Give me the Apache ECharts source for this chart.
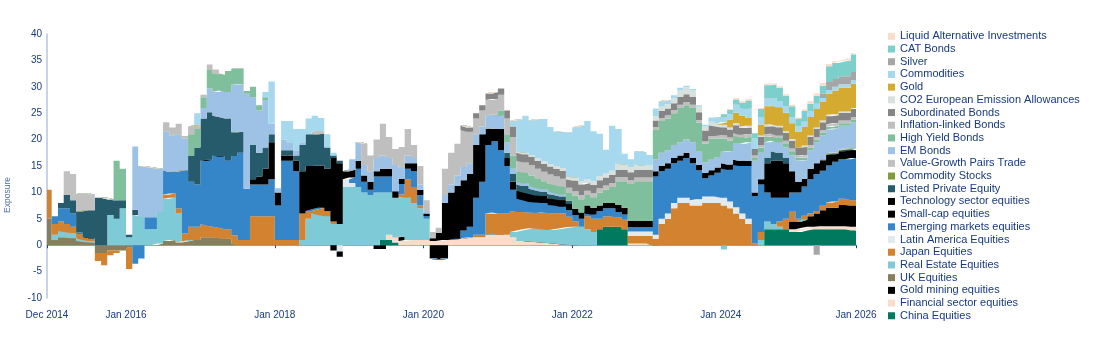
<!DOCTYPE html>
<html><head><meta charset="utf-8">
<script src="https://cdn.jsdelivr.net/npm/echarts@6/dist/echarts.min.js"></script>
<style>html,body{margin:0;padding:0;background:#fff}#c{width:1100px;height:360px}</style>
</head><body><div id="c"></div><script>
const dates = ['2014-12-01',
'2015-01-01','2015-02-01','2015-03-01','2015-04-01','2015-05-01','2015-06-01','2015-07-01','2015-08-01','2015-09-01','2015-10-01','2015-11-01','2015-12-01',
'2016-01-01','2016-02-01','2016-03-01','2016-04-01','2016-05-01','2016-06-01','2016-07-01','2016-08-01','2016-09-01','2016-10-01','2016-11-01','2016-12-01',
'2017-01-01','2017-02-01','2017-03-01','2017-04-01','2017-05-01','2017-06-01','2017-07-01','2017-08-01','2017-09-01','2017-10-01','2017-11-01','2017-12-01',
'2018-01-01','2018-02-01','2018-03-01','2018-04-01','2018-05-01','2018-06-01','2018-07-01','2018-08-01','2018-09-01','2018-10-01','2018-11-01','2018-12-01',
'2019-01-01','2019-02-01','2019-03-01','2019-04-01','2019-05-01','2019-06-01','2019-07-01','2019-08-01','2019-09-01','2019-10-01','2019-11-01','2019-12-01',
'2020-01-01','2020-02-01','2020-03-01','2020-04-01','2020-05-01','2020-06-01','2020-07-01','2020-08-01','2020-09-01','2020-10-01','2020-11-01','2020-12-01',
'2021-01-01','2021-02-01','2021-03-01','2021-04-01','2021-05-01','2021-06-01','2021-07-01','2021-08-01','2021-09-01','2021-10-01','2021-11-01','2021-12-01',
'2022-01-01','2022-02-01','2022-03-01','2022-04-01','2022-05-01','2022-06-01','2022-07-01','2022-08-01','2022-09-01','2022-10-01','2022-11-01','2022-12-01',
'2023-01-01','2023-02-01','2023-03-01','2023-04-01','2023-05-01','2023-06-01','2023-07-01','2023-08-01','2023-09-01','2023-10-01','2023-11-01','2023-12-01',
'2024-01-01','2024-02-01','2024-03-01','2024-04-01','2024-05-01','2024-06-01','2024-07-01','2024-08-01','2024-09-01','2024-10-01','2024-11-01','2024-12-01',
'2025-01-01','2025-02-01','2025-03-01','2025-04-01','2025-05-01','2025-06-01','2025-07-01','2025-08-01','2025-09-01','2025-10-01','2025-10-26'];

const axisStart = '2014-12-09', axisEnd = '2025-10-26';
const tickDates = ['2014-12-09','2016-01-01','2018-01-01','2020-01-01','2022-01-01','2024-01-01','2025-10-26'];
const tickLabels = ['Dec 2014','Jan 2016','Jan 2018','Jan 2020','Jan 2022','Jan 2024','Jan 2026'];
const yTicks = [-10, 40, 5];

const chinaEquities = [0,
0,0,0,0,0,0,0,0,0,0,0,0,
0,0,0,0,0,0,0,0,0,0,0,0,
0,0,0,0,0,0,0,0,0,0,0,0,
0,0,0,0,0,0,0,0,0,0,0,0,
0,0,0,0,0,1,1,0.5,0,0,0,0,
0,0,0,0,0,0,0,0,0,0,0,0,
0,0,0,0,0,0,0,0,0,0,0,0,
0,0,0,0,3,3.5,3.5,3.5,3,0,0,0,
0,0,0,0,0,0,0,0,0,0,0,0,
0,0,0,0,0,0,0,3,3,3,3,2.5,
2.5,2.8,3,3,3,3,3,3,3,2.8,2.8];
const financialEquities = [0,
0,0,0,0,0,0,0,0,0,0,0,0,
0,0,0,0,0,0,0,0,0,0,0,0,
0,0,0,0,0,0,0,0,0,0,0,0,
0,0,0,0,0,0,0,0,0,0,0,0,
0,0,0,0,0,0,1,1,0.8,1,1,1,
1,0.8,0.8,1,1,1.2,1.3,1.5,1.5,1.5,2,2.2,
2,2,1.5,0.8,0.8,0.7,0.6,0.5,0.4,0.3,0.2,0.1,
0,0,0,0,0,0,0,0,0,0.3,0.3,0.3,
0.3,0,0,0,0,0,0,0,0,0,0,0,
0,0,0,0,0,0,0,0,0,0,0,0.5,
0.5,0.5,0.5,0.5,0.6,0.6,0.6,0.6,0.6,0.7,0.7];
const goldMining = [0,
0,0,0,0,0,0,0,0,0,0,0,0,
0,0,0,0,0,0,0,0,0,0,0,0,
0,0,0,0,0,0,0,0,0,0,0,0,
0,0,0,0,0,0,0,0,0,0,0,0,
0,0,0,0,-0.7,-0.7,0,0,0.8,0,0,0,
0,-2.5,-2.8,-2.5,0,0,0,0,0,0,0,0,
0,0,0,0,0,0,0,0,0,0,0,0,
0,0,0,0,0,0,0,0,0,0,0,0,
0,0,0,0,0,0,0,0,0,0,0,0,
0,0,0,0,0,0,0,0,0,0,0,1.5,
1.5,1.5,2,2.5,3,3.5,3.5,4,4,4,4];
const ukEquities = [5,
1,1.5,1.5,1.3,0.8,0.6,0.5,-1.5,-1.5,-1,-1,-1,
-0.5,0,0,0,0,0.3,0.8,1,0.5,0.7,1,1,
1.5,1.5,1.5,1.3,1.2,0.3,0,0,0,0,0,0,
0,0,0,0,0,0,0,0,0,0,0,0,
0,0,0,0,0,0,0,0,0,0,0,0,
0,0,0,0,0,0,0,0,0,0,0,0,
0,0,0,0,0,0,0,0,0,0,0,0,
0,0,0,0,0,0,0,0,0,0,0,0,
0,0,0,0,0,0,0,0,0,0,0,0,
0,0,0,0,0,0,0,0,0,0,0,0,
0,0,0,0,0,0,0,0,0,0,0];
const realEstate = [0,
1,1.2,1,1,0.5,0.4,0.3,0,0,5.7,5,7,
1.5,5.7,5.5,3,3,6,8,8,5.5,0,0,0,
0,0,0,0,0,0,0,0,0,0,0,0,
0,0,0,0,1,5,6,5.7,5.5,4,4,11,
11,11,10,9.5,10,9,8,7.5,7.5,8,7,6,
4,0,0,0,0,0,0,0,0,0,0,0,
0,0,1,2,2.2,2.5,2.5,2.5,2.5,2.7,3,3.3,
3.5,3.5,3,2.5,0,0,0,0,0,0,0,0,
0,0,0,0,0,0,0,0,0,0,0,0,
-0.8,0,0,0,0,0,1,1.5,1,0.5,0,0,
0,0,0,0,0,0,0,0,0,0,0];
const japanEquities = [5.5,
2,1.8,1.5,1.2,0.8,0.6,0.5,-1.5,-2.3,-0.9,-0.5,0,
-4,0,0,0,0,0,0.8,0.8,1,1.5,2.5,2.5,
2.5,2.2,2,2,1.8,1.6,1,1,5.5,5.5,5.5,5.5,
1,1,1,1,5,1.5,0.8,1.4,1,0.5,0,0,
0,0,0,0,0,0,0,0,0.5,3.5,3,0.5,
0,0,0,0,0,0,0,0,0.5,0.5,4,4,
4,4,4,3.5,3.3,3,3,3.2,3.2,3,2.8,2,
1,0,2.5,2.5,2,2,2,1.8,1.8,1.5,1.5,1.5,
1.5,1.2,4,5,7,8,8,7.5,7.5,8,8,8,
7.5,7,6,5,4,0.3,1.5,0,0,1,2,2,
0.5,0.8,0.5,0.5,1,1,1.2,1.2,1.2,1,1];
const latamEquities = [0,
0,0,0,0,0,0,0,0,0,0,0,0,
0,0,0,0,0,0,0,0,0,0,0,0,
0,0,0,0,0,0,0,0,0,0,0,0,
0,0,0,0,0,0,0,0,0,0,-1.2,1.5,
0.8,0,0,0,0,0,0,0,0,0,0,0,
0,0,0,0,0,0,0,0,0,0,0,0,
0,0,0,0,0,0,0,0,0,0,0,0,
0,0,0,0,0,0,0,0,0,0.8,0.8,0.8,
0.8,0.8,1,1,1,1,1,1,1.2,1.2,1.2,1.2,
1.5,1.3,1.2,1,1,0,0,0,0,0,0,0,
0,0,0,0,0,0,0,0,0,0,0];
const emEquities = [0,
1.5,2.5,3,2.5,0.3,0,0,0,0,0,0,0,
0,-3.5,-2.5,2.3,2.3,0,4.5,4,7,12,8.5,8,
12,12.5,13.5,13.5,13,15,16.5,9.7,6,6,6,7,
6.5,15,15,13,0,0,0,0,0,0,0,0,
1,3.5,2,1,3,3,3,0,2,2,3,2,
0.5,0,0,0,0,0,1.5,2,7,10,13,13.5,
12,9,4,2.5,2.2,2,2,1.8,1.5,1.5,1.3,1.2,
1.2,1.5,0.5,0.8,1.5,1.5,1.5,1,1,0.8,0.8,0.8,
0.8,11,9,8.5,7.5,7,7.5,7,5.5,3.5,4,4.5,
5.5,6,8,9,10,9,9,5.5,5,4.5,4,3.5,
5,5.5,6.5,7,6.5,7,7.5,7.5,7.5,8,8];
const smallCap = [0,
0,0,0,0,0,0,0,0,0,0,0,0,
0,0,0,0,0,0,0,0,0,0,0,0,
0,0,0,0,0,0,0,0,1,1.5,3,7,
2.5,1,1,2,8,8.5,8.2,8,8,12,11.5,1.5,
1.5,1.5,1.2,1.5,1,1.5,1.5,1.2,1,1,1.5,1,
0.5,0.5,1.5,7,9,10,9.5,10,10,9,3,2.5,
4,1.5,1.5,1.5,1.5,1.5,1.3,1.3,1.3,1.2,1.2,1.2,
1.2,1.2,1.5,1.3,1,1,1,1.3,1.3,1.2,1.2,1.2,
1.2,1,1,1,1,1,1,1,1,1,1,1,
1,1,1,1,1,0.7,1,5.5,7,7,6.5,4,
2,1.5,2,2,2,2,1.5,1.5,1.8,1.5,1.5];
const techEquities = [0,
0,0,0,0,0,0,0,0,0,0,0,0,
0,0,0,0,0,0,0,0,0,0,0,0,
0,0,0,0,0,0,0,0,0,0,0,0,
0,0,0,0,0,0,0,0,0,-1,-1,0,
0,0,0,0,0,0,0,0,0,0,0,0,
0,0,0,0,0,0,0,0,0,0,0,0,
0,0,0,0,0,0,0,0,0,0,0,0,
0,0,0,0,0,0,0,0,0,0,0,0,
0,0,0,0,0,0,0,0,0,0,0,0,
0,0,0,0,0,0,0,0,0,0,0,0,
0,0,0,0,0,0,0,0,0,0,0];
const listedPE = [0,
0,1,2.5,2.5,4,5,5.3,9,9,3,3.5,1.5,
0.5,1,0,0,0,0,0,0,0,0,5,7,
8,9,7.5,7.5,8,4.5,4,0,6.5,4.5,4,1.5,
0,1,1,1,5,6,6,6,4,0.5,0.5,0,
0,0,0,0,0,0,0,0,0,0,0,0,
0,0,0,0,0,0,0,0,0,0,0,0,
0,1,1.5,1.2,1.2,1,1,0.8,0.8,0.8,0.7,0.6,
0,0,0,0,0,0,0,0,0,0,0,0,
0,0,0,0,0,0,0,0,0,0,0,0,
0,0,0,0,0,0,0,1,1.8,1.5,1,0,
0,0,0,0,0,0,0,0,0,0,0];
const commodityStocks = [0,
0,0,0,0,0,0,0,0,0,0,0,0,
0,0,0,0,0,0,0,0,0,0,0,0,
0,0,0,0,0,0,0,0,0,0,0,0,
0,0,0,0,0,0,0,0,0,0,0,0,
0,0,0,0,0,0,0,0,0,0,0,0,
0,0,0,0,0,0,0,0,0,0,0,0,
0,0,0,0,0,0,0,0,0,0,0,0,
0,0,0,0,0,0,0,0,0,0,0,0,
0,0,0,0,0,0,0,0,0,0,0,0,
0,0,0,0,0,0,0,0,0,0,0,0,
0,0,0,0,0.2,0.3,0.3,0.3,0.3,0.3,0.3];
const valueGrowth = [0,
0,0,4.5,5,3.3,3.2,3,0,0,0,0,0,
0,0,0,0,0,0,0,0,0,0,0,0,
0,0,0,0,0,0,0,0,0,0,0,0,
0,0,0,0,0,0,0,0,0,0,0,0,
0,0,0,0,0,0,0,0,0,0,0,0,
0,0,0,0,0,0,0,0,0,0,0,0,
0,0,0,0,0,0,0,0,0,0,0,0,
0,0,0,0,0,0,0,0,0,0,0,0,
0,0,0,0,0,0,0,0,0,0,0,0,
0,0,0,0,0,0,0,0,0,0,0,0,
0,0,0,0,0,0,0,0,0,0,0];
const emBonds = [0,
0,0,0,0,0,0,0,0,0,0,0,0,
0,12,9.5,9.5,9.3,8.2,7.5,7,7,6,0,0,
2,4.5,4.5,5,5,9,9,18,9,8,9,2,
0.8,2,1.5,1,0.5,0,0,0,0,0,0,0,
2,3.5,2,2,2.5,2.5,2,5,2,1.5,1,1,
0.5,0,0,1.5,1.5,2,2.5,2,2,1.5,2.6,2.5,
2.5,2,1,0.5,0.5,0.5,0.5,0.5,0.5,0.4,0.4,0,
0,0,0,0,0,0,0,0,0,0,0,0,
0,2.3,2.5,2.5,2.5,2.5,2.5,3,2.5,2,2,2,
2.2,2.5,3,3.2,3.5,6,5,3,2,2,2,3,
4,3.5,3.5,4,4.5,4.5,4.5,4.5,4.2,5,5];
const highYield = [0,
0,0,0,0,0,0,0,0,0,0,7.5,6,
0,0,0,0,0,0,0,0,0,0,4,3.5,
2,3.5,3.5,3,4,3,3,0.5,2,1,0.5,0,
0,0,0,0,0,0,0,0,0,0,0,0,
0,0,0,0,0,0,0,0,0,0,0,0,
0,0,0,0,0,0,0,0,0,0,0,0,
1,1.5,2.5,2,2,2,1.8,1.5,1.5,1.5,1.5,1.5,
2.5,2.5,2,2,2.5,2.5,3,4.5,5,7,7.5,7.5,
7.5,5.5,6,6,6,6.5,6.5,6.5,5.5,3.5,4,3.5,
2.5,2,1.5,1.2,1,0.5,1,1,0.8,0.8,0.8,0.8,
0.5,0.5,0.5,0.5,0.5,0.5,0.5,0.5,0.5,0.5,0.5];
const inflationLinked = [0,
0,0,0,0,0,0,0,0,0,0,0,0,
0,0,0,0,0,0,1.7,1.5,2,0.5,1.5,0.7,
0.5,1,0.8,0,0,0,0,0,0,0,0,0,
0,0,0,0,0,0,0.5,0.5,0,0,0,0,
0,0,4,3,3.5,6,4,3,4,5,2.5,3.5,
2,1.2,1,5,6,6,7,6,3,3,2.9,3,
3,3,3.5,2,2,2,1.8,1.8,1.7,1.6,1.5,1,
0.8,0.8,0.8,0.8,0.8,0.8,0.8,0.8,0.8,0.7,0.7,0.7,
0.7,0.6,0.6,0.6,0.6,0.6,0.6,0.6,0.5,0.5,0.5,0.5,
0.6,0.6,0.5,0.5,0.5,0.5,0.5,0.5,0.5,0.5,0.5,0.5,
0.5,0.5,0.5,0.5,0.5,0.5,0.5,0.5,0.5,0.5,0.5];
const subordinated = [0,
0,0,0,0,0,0,0,0,0,0,0,0,
0,0,0,0,0,0,0,0,0,0,0,0,
0,0,0,0,0,0,0,0,0,0,0,0,
0,0,0,0,0,0,0,0,0,0,0,0,
0,0,0,0,0,0,0,0,0,0,0,0,
0,0,0,0,0,0,0.8,0.8,1,1,1.2,1.3,
1.2,1.5,2,1.5,1.5,1.5,1.5,1.5,1.5,1.5,1.5,1.6,
2,2,1.5,1.5,1.5,1.5,1.5,1.4,1.4,1.5,1.5,1.5,
1.5,1.2,1.3,1.3,1.3,1.5,1.5,1.5,1.5,2,2,1.8,
1.5,1.5,1.5,1.3,1.3,1.2,1.5,1.5,1.5,1.5,1.5,1.5,
1.5,1.5,1.5,1.5,1.5,1.5,1.5,1.5,1.5,1.5,1.5];
const co2Allowances = [0,
0,0,0,0,0,0,0,0,0,0,0,0,
0,0,0,0,0,0,0,0,0,0,0,0,
0,0,0,0,0,0,0,0,0,0,0,0,
0,0,0,0,0,0,0,0,0,0,0,0,
0,0,0,0,0,0,0,0,0,0,0,0,
0,0,0,0,0,0,0,0,0,0,0,0,
0,0,0,0.3,0.3,0.4,0.4,0.5,0.5,0.5,0.5,0.6,
0.6,0.6,0.7,0.7,0.8,0.8,0.8,1.2,1,1,1,0.8,
0.8,0.8,0.8,0.8,1,1.2,1.3,1.2,1,0.8,0.7,0.5,
0.5,0.4,0.4,0.3,0.3,0,0.3,0.3,0.3,0.3,0.3,0.3,
0,0.3,0.3,0.3,0.3,0.3,0.2,0.2,0.2,0.2,0.2];
const gold = [0,
0,0,0,0,0,0,0,0,0,0,0,0,
0,0,0,0,0,0,0,0,0,0,0,0,
0,0,0,0,0,0,0,0,0,0,0,0,
0,0,0,0,0,0,0,0,0,0,0,0,
0,0,0,0,0,0,0,0,0,0,0,0,
0,0,0,0,0,0,0,0,0,0,0,0,
0,0,0,0,0,0,0,0,0,0,0,0,
0,0,0,0,0,0,0,0,0,0,0,0,
0,0,0,0,0,0,0,0,0,0,0,0,
0.5,1.5,2,2,1.5,0,2,3.5,3.5,3.5,3.5,3,
3,3.5,3.5,3.5,3.5,4,4.5,4.5,4.5,4.6,4.6];
const commodities = [0,
0,0,0,0,0,0,0,0,0,0,0,0,
0,0,0,0,0,0,0,0,0,0,0,2.3,
0,0,0,0,0,0,0,0,0,0,1,8,
0,3.5,4,4,2.5,3,3,2.5,2.5,0.5,0,0,
0,0,0,0,0,0,0,0,0,0,0,0,
0,0,0,0,0,0,0,0,0,0,0,0,
0,0,1,6,7,6.5,7.5,8,7,6.5,6.8,8.3,
9.5,10.5,11,9.5,8,4.5,8.5,6.5,2,1.5,2.5,2.5,
2,1.5,1,0.8,0.5,0.5,0.3,0.3,0.3,0.3,0.8,1.2,
1,1,1.5,1.5,1.8,2,1.5,1.5,1.5,1.2,1.2,1.2,
1,1,1,1,0.8,0.7,0.7,0.7,0.7,0.7,0.7];
const silver = [0,
0,0,0,0,0,0,0,0,0,0,0,0,
0,0,0,0,0,0,0,0,0,0,0,0,
0,0,0,0,0,0,0,0,0,0,0,0,
0,0,0,0,0,0,0,0,0,0,0,0,
0,0,0,0,0,0,0,0,0,0,0,0,
0,0,0,0,0,0,0,0,0,0,0,0,
0,0,0,0,0,0,0,0,0,0,0,0,
0,0,0,0,0,0,0,0,0,0,0,0,
0,0,0,0,0,0,0,0,0,0,0,0,
0,0,0,0,0,0,0,0,0,0,0,0,
0,0,0,-1.8,0.8,1.5,1.5,1.5,1.5,1.5,1.5];
const catBonds = [0,
0,0,0,0,0,0,0,0,0,0,0,0,
0,0,0,0,0,0,0,0,0,0,0,0,
0,0,0,0,0,0,0,0,0,0,0,0,
0,0,0,0,0,0,0,0,0,0,0,0,
0,0,0,0,0,0,0,0,0,0,0,0,
0,0,0,0,0,0,0,0,0,0,0,0,
0,0,0,0,0,0,0,0,0,0,0,0,
0,0,0,0,0,0,0,0,0,0,0,0,
0,0,0,0,0,0,0,0,0,0,0,0,
0.5,0.8,1,1,1.5,1,1.5,2.5,2.5,2.5,2,2,
1.5,2,1.5,1.5,1.5,3,3,2.8,3,3.3,3.3];
const liquidAlternatives = [0,
0,0,0,0,0,0,0,0,0,0,0,0,
0,0,0,0,0,0,0,0,0,0,0,0,
0,0,0,0,0,0,0,0,0,0,0,0,
0,0,0,0,0,0,0,0,0,0,0,0,
0,0,0,0,0,0,0,0,0,0,0,0,
0,0,0,0,0,0,0,0,0,0,0,0,
0,0,0,0,0,0,0,0,0,0,0,0,
0,0,0,0,0,0,0,0,0,0,0,0,
0,0,0,0,0,0,0,0,0,0,0,0,
0,0.2,0.3,0.3,0.3,0,0.2,0.3,0.3,0.3,0.3,0.3,
0.2,0.3,0.5,0.5,0.5,0.4,0.4,0.4,0.4,0.3,0.3];

// stacking order bottom -> top
const seriesDefs = [
  ['China Equities', chinaEquities, '#007a5e'],
  ['Financial sector equities', financialEquities, '#fadccb'],
  ['Gold mining equities', goldMining, '#000000'],
  ['UK Equities', ukEquities, '#867e5d'],
  ['Real Estate Equities', realEstate, '#7fcad7'],
  ['Japan Equities', japanEquities, '#d3832f'],
  ['Latin America Equities', latamEquities, '#e2eaed'],
  ['Emerging markets equities', emEquities, '#3585c9'],
  ['Small-cap equities', smallCap, '#000000'],
  ['Technology sector equities', techEquities, '#000000'],
  ['Listed Private Equity', listedPE, '#255b6a'],
  ['Commodity Stocks', commodityStocks, '#7f9b3b'],
  ['Value-Growth Pairs Trade', valueGrowth, '#c1c1c1'],
  ['EM Bonds', emBonds, '#9dc2e6'],
  ['High Yield Bonds', highYield, '#80bf9b'],
  ['Inflation-linked Bonds', inflationLinked, '#bfbfbf'],
  ['Subordinated Bonds', subordinated, '#858585'],
  ['CO2 European Emission Allowances', co2Allowances, '#d8e1dc'],
  ['Gold', gold, '#d4aa30'],
  ['Commodities', commodities, '#a6d9ee'],
  ['Silver', silver, '#a6a6a6'],
  ['CAT Bonds', catBonds, '#7dcfcc'],
  ['Liquid Alternative Investments', liquidAlternatives, '#fadccb']
];

function ts(s) { const p = s.split('-').map(Number); return Date.UTC(p[0], p[1] - 1, p[2]); }
const xs = dates.map(ts);
seriesDefs.forEach(d => { if (d[1].length !== xs.length) throw new Error(d[0] + ' length ' + d[1].length + ' vs ' + xs.length); });
const tickTs = tickDates.map(ts);
function tickLabel(v) {
  for (let i = 0; i < tickTs.length; i++) if (Math.abs(tickTs[i] - v) < 86400000) return tickLabels[i];
  return '';
}

const NAVY = '#173a7e';
const FONT = 'Liberation Sans, Arial, sans-serif';
const chart = echarts.init(document.getElementById('c'), null, {renderer: 'canvas'});
chart.setOption({
  animation: false,
  backgroundColor: '#ffffff',
  textStyle: {fontFamily: FONT},
  grid: {left: 47, right: 244, top: 34, bottom: 62, containLabel: false},
  xAxis: [{
    type: 'value', min: ts(axisStart), max: ts(axisEnd), position: 'bottom', scale: true,
    axisLine: {show: false, onZero: false},
    axisTick: {show: false},
    splitLine: {show: false},
    axisLabel: {
      customValues: tickTs, margin: 12, color: NAVY, fontSize: 10, fontFamily: FONT,
      hideOverlap: false, showMinLabel: true, showMaxLabel: true,
      formatter: tickLabel
    }
  }, {
    type: 'value', min: ts(axisStart), max: ts(axisEnd), position: 'top', scale: true,
    axisLine: {show: true, onZero: true, lineStyle: {color: '#8aa6cf', width: 1}},
    axisTick: {show: true, customValues: tickTs, inside: true, length: 3, lineStyle: {color: '#1d3f86', width: 1}},
    axisLabel: {show: false, customValues: tickTs, formatter: tickLabel},
    splitLine: {show: false}
  }],
  yAxis: {
    type: 'value', min: yTicks[0], max: yTicks[1], interval: yTicks[2],
    axisLine: {show: true, onZero: false, lineStyle: {color: '#b4c6df', width: 1.5}},
    axisTick: {show: false},
    splitLine: {show: false},
    axisLabel: {color: NAVY, fontSize: 10, margin: 5, fontFamily: FONT}
  },
  legend: {
    orient: 'vertical', left: 888, top: 30, padding: 0, itemWidth: 7, itemHeight: 7, itemGap: 0,
    icon: 'rect', selectedMode: false,
    textStyle: {color: NAVY, fontSize: 11, lineHeight: 12.7, fontFamily: FONT},
    data: seriesDefs.map(d => d[0]).slice().reverse()
  },
  graphic: [{
    type: 'text', left: 3, top: 177, rotation: Math.PI / 2,
    style: {text: 'Exposure', fill: '#4f6f9f', fontSize: 8.5, fontFamily: FONT}
  }],
  series: seriesDefs.map(d => ({
    name: d[0], type: 'line', stack: 'total', step: 'end',
    xAxisIndex: 0, yAxisIndex: 0,
    encode: {x: 1, y: 0},
    data: xs.map((x, i) => [d[1][i], x]),
    showSymbol: false, symbol: 'none', clip: true,
    lineStyle: {width: 0}, itemStyle: {color: d[2]},
    areaStyle: {color: d[2], opacity: 1},
    emphasis: {disabled: true}
  }))
});
</script></body></html>
